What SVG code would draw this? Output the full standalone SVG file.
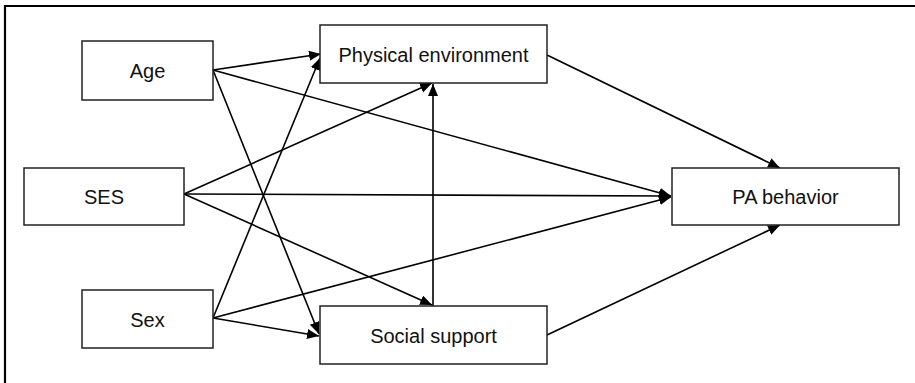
<svg xmlns="http://www.w3.org/2000/svg" width="915" height="383" viewBox="0 0 915 383">
<style>
.box{fill:#fff;stroke:#222;stroke-width:1.5}
.lbl{font-family:"Liberation Sans",Arial,sans-serif;font-size:20px;fill:#111;text-anchor:middle}
.edge{stroke:#000;stroke-width:1.6;fill:none;marker-end:url(#ah)}
</style>
<defs>
<marker id="ah" markerUnits="userSpaceOnUse" markerWidth="13" markerHeight="11" refX="12" refY="5" orient="auto">
<path d="M0,0 L12,5 L0,10 z" fill="#000"/>
</marker>
</defs>
<rect x="0" y="0" width="915" height="383" fill="#fff"/>
<path d="M5,383 L5,6 L915,6" fill="none" stroke="#000" stroke-width="2.2"/>
<g id="connectors">
<line class="edge" x1="213" y1="70" x2="321" y2="54"/>
<line class="edge" x1="213" y1="70" x2="671" y2="196"/>
<line class="edge" x1="213" y1="70" x2="319" y2="334"/>
<line class="edge" x1="184" y1="194" x2="432" y2="83"/>
<line class="edge" x1="184" y1="194" x2="671" y2="196"/>
<line class="edge" x1="184" y1="194" x2="432" y2="305"/>
<line class="edge" x1="213" y1="318" x2="320" y2="58"/>
<line class="edge" x1="213" y1="318" x2="319" y2="336"/>
<line class="edge" x1="213" y1="318" x2="671" y2="197"/>
<line class="edge" x1="433" y1="306" x2="433" y2="84"/>
<line class="edge" x1="547" y1="55" x2="780" y2="168"/>
<line class="edge" x1="547" y1="335" x2="780" y2="225"/>
</g>
<g id="age"><rect class="box" x="82" y="41" width="131" height="59"/><text class="lbl" x="147.5" y="78">Age</text></g>
<g id="ses"><rect class="box" x="24" y="168" width="160" height="57"/><text class="lbl" x="104" y="203.5">SES</text></g>
<g id="sex"><rect class="box" x="82" y="290" width="131" height="58"/><text class="lbl" x="147.5" y="326.5">Sex</text></g>
<g id="physical"><rect class="box" x="320" y="25" width="227" height="58"/><text class="lbl" x="433.5" y="61.5">Physical environment</text></g>
<g id="social"><rect class="box" x="320" y="306" width="227" height="58"/><text class="lbl" x="433.5" y="342.5">Social support</text></g>
<g id="pa"><rect class="box" x="672" y="168" width="227" height="57"/><text class="lbl" x="785.5" y="203.5">PA behavior</text></g>
</svg>
